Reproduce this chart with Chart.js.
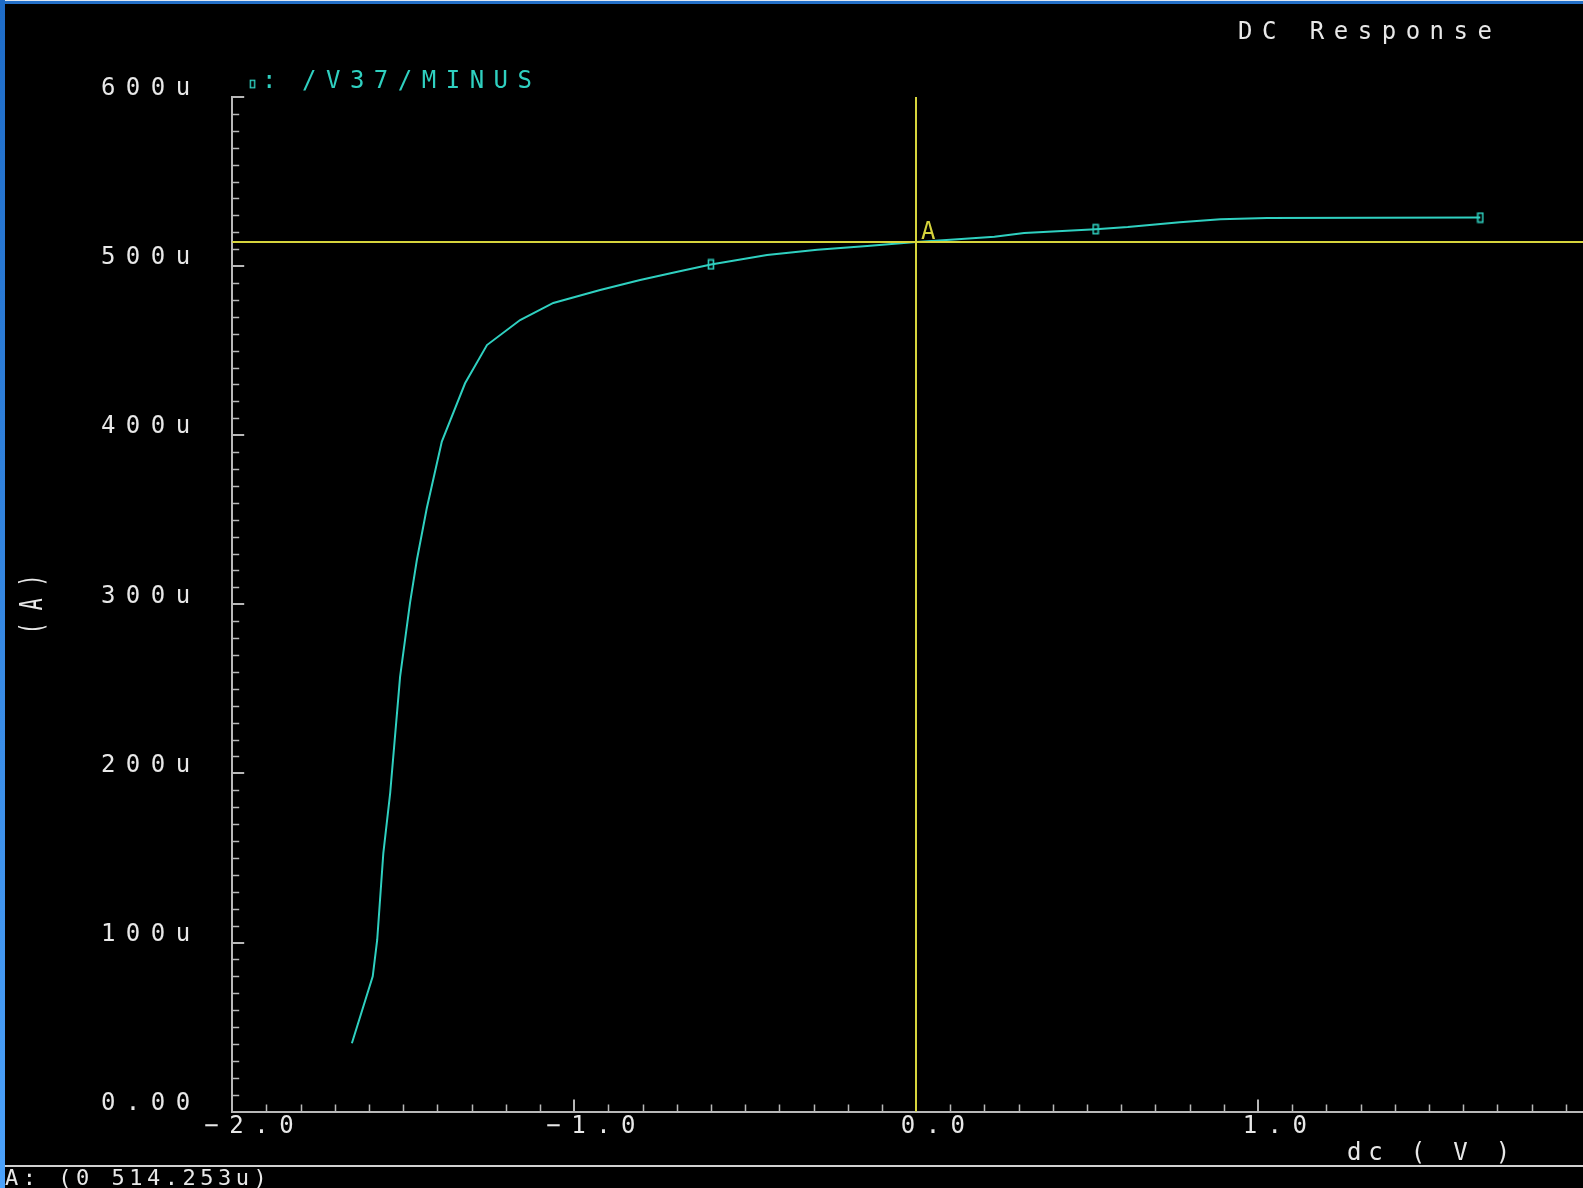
<!DOCTYPE html>
<html>
<head>
<meta charset="utf-8">
<title>DC Response</title>
<script src="https://cdn.jsdelivr.net/npm/chart.js@4.4.1/dist/chart.umd.min.js"></script>
<style>
  html, body { margin: 0; padding: 0; background: #000; overflow: hidden; width: 1583px; height: 1188px; }
  #wrap { position: relative; width: 1583px; height: 1188px; overflow: hidden; background: #000; }
  #plot { position: absolute; left: 0; top: 0; }
  #edgeTop { position: absolute; left: 0; top: 0; width: 1583px; height: 1px; background: #dfe8f4; z-index: 2; }
  #edgeTopBlue { position: absolute; left: 0; top: 1px; width: 1583px; height: 3px; background: #2470c8; z-index: 2; }
  #edgeLeft { position: absolute; left: 0; top: 0; width: 5px; height: 1188px; background: linear-gradient(#1e6cc8, #4ca2fb); z-index: 3; }
</style>
</head>
<body>
<div id="wrap">
  <canvas id="plot" width="1606" height="1188"></canvas>
  <div id="edgeTop"></div>
  <div id="edgeTopBlue"></div>
  <div id="edgeLeft"></div>
</div>
<script>
// ---- DC sweep data: source voltage (V) vs current (uA) ----
const dcVolts = [
  -1.650, -1.589, -1.576, -1.558, -1.538, -1.509, -1.480, -1.460, -1.431, -1.387,
  -1.319, -1.255, -1.158, -1.061, -0.924, -0.807, -0.698, -0.600, -0.436, -0.289,
  -0.143, 0.000, 0.100, 0.229, 0.316, 0.525, 0.619, 0.771, 0.890, 1.026, 1.650
];
const currentU = [
  40.4, 80.0, 101.5, 152.9, 188.4, 257.2, 300.8, 326.2, 356.8, 396.2,
  430.7, 453.3, 468.1, 478.2, 485.9, 491.8, 496.7, 501.0, 506.6, 509.6,
  511.9, 514.253, 515.6, 517.4, 519.6, 521.8, 523.1, 526.0, 527.7, 528.5, 528.7
];
// sweep points that carry a trace marker
const markerIdx = [17, 25, 30];

// axis ranges and tick steps
const xRange = [-2, 2];
const xMajorStep = 1;
const xMinorStep = 0.1;
const yRange = [0, 600];
const yMajorStep = 100;
const yMinorStep = 10;

// cursor A readout
const cursorName = 'A';
const cursorX = 0;
const cursorY = 514.253;

// labels
const plotTitle = 'DC Response';
const signalName = '/V37/MINUS';
const xTitle = 'dc ( V )';
const yTitle = '( A )';

// ---- styling ----
const FONT = "'DejaVu Sans Mono', monospace";
const traceColor = '#2fd0c0';
const axisColor = '#b8b8b8';
const textColor = '#e8e8e8';
const cursorColor = '#d6d43c';

const points = dcVolts.map((v, i) => ({ x: v, y: currentU[i] }));

// small hollow box used as the trace marker
const markerImg = (() => {
  const c = document.createElement('canvas');
  c.width = 8; c.height = 12;
  const g = c.getContext('2d');
  g.strokeStyle = traceColor;
  g.lineWidth = 1.6;
  g.strokeRect(1.5, 1.5, 5, 9);
  return c;
})();

const fmtX = v => {
  if (Math.abs(v - xRange[1]) < 1e-9) return '';
  const s = Math.abs(v).toFixed(1);
  return v < 0 ? '\u2212' + s : s;
};
const fmtY = v => (v === 0 ? '0.00' : v + 'u');

// tick label spacing (applied to the scale text)
const tickSpacing = {
  id: 'tickSpacing',
  beforeDraw(chart) { chart.ctx.letterSpacing = '10.5px'; }
};

// short minor ticks pointing into the plot
const minorTicks = {
  id: 'minorTicks',
  beforeDatasetsDraw(chart) {
    const { ctx, scales: { x, y }, chartArea: a } = chart;
    ctx.save();
    ctx.strokeStyle = axisColor;
    ctx.lineWidth = 1.5;
    ctx.beginPath();
    const nx = Math.round((xRange[1] - xRange[0]) / xMinorStep);
    const per = Math.round(xMajorStep / xMinorStep);
    for (let i = 0; i <= nx; i++) {
      if (i % per === 0) continue;
      const px = Math.round(x.getPixelForValue(xRange[0] + i * xMinorStep)) + 0.5;
      ctx.moveTo(px, a.bottom);
      ctx.lineTo(px, a.bottom - 7);
    }
    const ny = Math.round((yRange[1] - yRange[0]) / yMinorStep);
    const perY = Math.round(yMajorStep / yMinorStep);
    for (let j = 0; j <= ny; j++) {
      if (j % perY === 0) continue;
      const py = Math.round(y.getPixelForValue(yRange[0] + j * yMinorStep)) + 0.5;
      ctx.moveTo(a.left, py);
      ctx.lineTo(a.left + 7, py);
    }
    ctx.stroke();
    ctx.restore();
  }
};

// cursor crosshair with its letter
const cursorPlugin = {
  id: 'cursorA',
  afterDatasetsDraw(chart) {
    const { ctx, scales: { x, y }, chartArea: a } = chart;
    const px = Math.round(x.getPixelForValue(cursorX));
    const py = Math.round(y.getPixelForValue(cursorY));
    ctx.save();
    ctx.strokeStyle = cursorColor;
    ctx.lineWidth = 2;
    ctx.beginPath();
    ctx.moveTo(px, a.top);
    ctx.lineTo(px, a.bottom);
    ctx.moveTo(a.left, py);
    ctx.lineTo(a.right, py);
    ctx.stroke();
    ctx.letterSpacing = '0px';
    ctx.fillStyle = cursorColor;
    ctx.font = '24px ' + FONT;
    ctx.textAlign = 'left';
    ctx.textBaseline = 'alphabetic';
    ctx.fillText(cursorName, px + 5, py - 3);
    ctx.restore();
  }
};

// title, legend entry, axis titles and the cursor readout line
const frameText = {
  id: 'frameText',
  afterDraw(chart) {
    const { ctx, chartArea: a } = chart;
    ctx.save();
    ctx.textAlign = 'left';
    ctx.textBaseline = 'alphabetic';

    // window title
    ctx.font = '24px ' + FONT;
    ctx.letterSpacing = '9.5px';
    ctx.fillStyle = textColor;
    ctx.fillText(plotTitle, 1238, 39);

    // legend entry
    ctx.drawImage(markerImg, 249, 79, 7, 10);
    ctx.fillStyle = traceColor;
    ctx.fillText(':', 262, 88);
    ctx.fillText(signalName, 302, 88);

    // x title
    ctx.fillStyle = textColor;
    ctx.letterSpacing = '6.8px';
    ctx.fillText(xTitle, 1347, 1160);

    // y title, rotated and condensed
    ctx.save();
    ctx.translate(42, (a.top + a.bottom) / 2);
    ctx.rotate(-Math.PI / 2);
    ctx.scale(0.62, 1);
    ctx.letterSpacing = '0px';
    ctx.font = '32px ' + FONT;
    ctx.textAlign = 'center';
    ctx.fillText(yTitle, 0, 0);
    ctx.restore();

    // readout bar
    ctx.strokeStyle = '#d0d0d0';
    ctx.lineWidth = 2;
    ctx.beginPath();
    ctx.moveTo(0, 1166);
    ctx.lineTo(chart.width, 1166);
    ctx.stroke();
    ctx.font = '22px ' + FONT;
    ctx.letterSpacing = '4.5px';
    ctx.fillStyle = textColor;
    ctx.fillText(`${cursorName}: (${cursorX} ${cursorY}u)`, 5, 1185);
    ctx.restore();
  }
};

new Chart(document.getElementById('plot'), {
  type: 'line',
  data: {
    datasets: [{
      label: signalName,
      data: points,
      borderColor: traceColor,
      borderWidth: 2,
      tension: 0,
      fill: false,
      pointStyle: markerImg,
      pointRadius: ctx => (markerIdx.includes(ctx.dataIndex) ? 4 : 0),
      pointHoverRadius: 0
    }]
  },
  options: {
    responsive: false,
    animation: false,
    devicePixelRatio: 1,
    events: [],
    layout: { padding: { top: 97, left: 0, right: 1, bottom: 0 } },
    plugins: {
      legend: { display: false },
      title: { display: false },
      tooltip: { enabled: false }
    },
    scales: {
      x: {
        type: 'linear',
        min: xRange[0],
        max: xRange[1],
        afterFit: s => { s.height = 76.4; s.paddingLeft = 0; s.paddingRight = 0; },
        border: { display: true, color: axisColor, width: 2 },
        grid: { display: true, drawOnChartArea: false, drawTicks: true, tickLength: -12, color: axisColor, lineWidth: 2 },
        ticks: {
          stepSize: xMajorStep,
          autoSkip: false,
          maxRotation: 0,
          labelOffset: 22,
          padding: 13,
          color: textColor,
          font: { family: FONT, size: 24 },
          callback: v => fmtX(v)
        }
      },
      y: {
        type: 'linear',
        min: yRange[0],
        max: yRange[1],
        afterFit: s => { s.width = 232.2; },
        border: { display: true, color: axisColor, width: 2 },
        grid: { display: true, drawOnChartArea: false, drawTicks: true, tickLength: -12, color: axisColor, lineWidth: 2 },
        ticks: {
          stepSize: yMajorStep,
          autoSkip: false,
          labelOffset: -8,
          padding: 43.5,
          color: textColor,
          font: { family: FONT, size: 24 },
          callback: v => fmtY(v)
        }
      }
    }
  },
  plugins: [tickSpacing, minorTicks, cursorPlugin, frameText]
});
</script>
</body>
</html>
